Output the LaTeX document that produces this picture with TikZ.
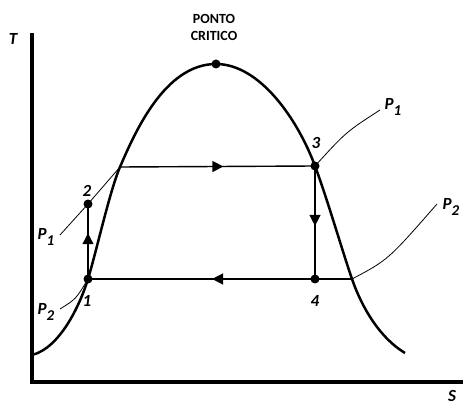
\documentclass[tikz,border=0pt]{standalone}
\usepackage{fontspec}
\setmainfont{Carlito}
\usetikzlibrary{arrows.meta, decorations.markings}

\newcommand{\pres}[1]{P\raisebox{-0.3em}{\fontsize{15}{15}\selectfont #1}}

\tikzset{
    lbl/.style={font=\fontsize{17}{20}\selectfont\bfseries\itshape, inner sep=0pt},
    dot/.style={circle, fill=black, inner sep=0pt, minimum size=9pt},
    cycleline/.style={line width=1.4pt},
    isobar/.style={line width=0.8pt},
    midarrow/.style={postaction={decorate}, decoration={markings,
        mark=at position #1 with {\arrow{Triangle[length=11pt,width=11pt]}}}}
}

\begin{document}
\begin{tikzpicture}[x=1pt, y=-1pt]
    \useasboundingbox (0,0) rectangle (464,406);

    % Axes
    \draw[line width=3.2pt] (32,33) -- (32,382) -- (463,382);
    \node[lbl] (tlabel) at (13,39) {T};
    \node[lbl] (slabel) at (452,396) {S};

    % Cycle states
    \node[dot] (n1) at (88,279) {};
    \node[dot] (n2) at (88,204) {};
    \node[dot] (n3) at (315,166) {};
    \node[dot] (n4) at (315,279) {};
    \coordinate (a) at (120,167);
    \coordinate (b) at (352,279);

    % Saturation dome
    \node[dot] (crit) at (216,64) {};
    \draw[line width=2.5pt] (32,355) .. controls (60,348) and (80,305) .. (n1.center)
        .. controls (96,253) and (110,190) .. (a)
        .. controls (135,132) and (165,64) .. (crit.center)
        .. controls (260,64) and (298,120) .. (n3.center)
        .. controls (327,198) and (342,250) .. (b)
        .. controls (362,308) and (380,338) .. (405,353);
    \node[font=\fontsize{14}{17}\selectfont\bfseries, align=center] (critlabel) at (214,27) {PONTO\\CRITICO};

    \node[lbl] (l1) at (87,301) {1};
    \node[lbl] (l2) at (87,191) {2};
    \node[lbl] (l3) at (316,143) {3};
    \node[lbl] (l4) at (315,301) {4};

    % Cycle
    \draw[cycleline, midarrow=0.61] (n1.center) -- (n2.center);
    \draw[cycleline, midarrow=0.53] (a) -- (n3.center);
    \draw[cycleline, midarrow=0.53] (n3.center) -- (n4.center);
    \draw[cycleline, midarrow=0.53] (b) -- (n1.center);

    % Isobars
    \coordinate (p1left) at (60,235);
    \coordinate (p2left) at (60,309);
    \coordinate (p1right) at (380,110);
    \coordinate (p2right) at (437,204);
    \draw[isobar] (p1left) -- (n2.center) -- (a);
    \draw[isobar] (p2left) .. controls (76,299) .. (n1.center);
    \draw[isobar] (n3.center) .. controls (346,132) .. (p1right);
    \draw[isobar] (b) .. controls (388,260) .. (p2right);

    \node[lbl] (p1l) at (46,237) {\pres{1}};
    \node[lbl] (p2l) at (46,312) {\pres{2}};
    \node[lbl] (p1r) at (393,107) {\pres{1}};
    \node[lbl] (p2r) at (451,207) {\pres{2}};

\end{tikzpicture}
\end{document}
